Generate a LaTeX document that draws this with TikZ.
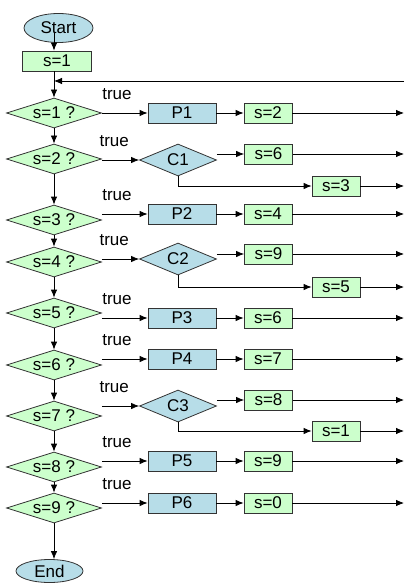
\documentclass[tikz,border=0pt]{standalone}
\usepackage{fontspec}
\setmainfont{Liberation Sans}
\usetikzlibrary{shapes.geometric, positioning, arrows.meta}
\definecolor{procblue}{RGB}{183,221,232}
\definecolor{stategreen}{RGB}{204,255,204}

\tikzset{
  terminal/.style={ellipse, draw=black!80, fill=procblue, inner sep=0pt, minimum width=69pt, minimum height=29pt},
  assign/.style={rectangle, draw=black!80, fill=stategreen, inner sep=0pt, minimum width=48pt, minimum height=20pt},
  process/.style={rectangle, draw=black!80, fill=procblue, inner sep=0pt, minimum width=68pt, minimum height=20pt},
  test/.style={diamond, aspect=3, draw=black!80, fill=stategreen, inner sep=0pt, minimum width=95pt, minimum height=30pt},
  choice/.style={diamond, aspect=2.4, draw=black!80, fill=procblue, inner sep=0pt, minimum width=77pt, minimum height=32pt},
  truelab/.style={pos=.33, above=13pt, inner sep=0pt}
}

\begin{document}
\begin{tikzpicture}[on grid, thick, -{Latex[length=8pt, width=6.5pt]}, font=\fontsize{17}{19}\selectfont]
        \useasboundingbox (-54pt,113pt) rectangle (351pt,-470pt);

        % main column of tests
        \node[test] (d1) {s=1 ?};
        \node[assign, minimum width=69pt] (init) [above right=52pt and 3pt of d1] {s=1};
        \node[terminal] (start) [above right=85pt and 4.5pt of d1] {Start};
        \coordinate[above=81pt of d1] (launch);
        \coordinate[above=32pt of d1] (fb);
        \coordinate[right=350pt of d1] (rim);
        \node[test] (d2) [below=46pt of d1] {s=2 ?};
        \node[test] (d3) [below=61pt of d2] {s=3 ?};
        \node[test] (d4) [below=42pt of d3] {s=4 ?};
        \node[test] (d5) [below=51pt of d4] {s=5 ?};
        \node[test] (d6) [below=52pt of d5] {s=6 ?};
        \node[test] (d7) [below=51pt of d6] {s=7 ?};
        \node[test] (d8) [below=51pt of d7] {s=8 ?};
        \node[test] (d9) [below=41pt of d8] {s=9 ?};
        \node[terminal, minimum width=67pt, minimum height=23pt] (end) [below left=63pt and 4.5pt of d9] {End};

        % branches
        \node[process] (p1) [right=128pt of d1] {P1};
        \node[assign] (a2) [right=86pt of p1] {s=2};
        \node[choice] (c1) [below right=1pt and 124pt of d2] {C1};
        \node[assign] (a6) [above right=6pt and 90.5pt of c1] {s=6};
        \node[assign] (a3) [below right=26pt and 158pt of c1] {s=3};
        \node[process] (p2) [above right=6pt and 128pt of d3] {P2};
        \node[assign] (a4) [right=86pt of p2] {s=4};
        \node[choice] (c2) [above right=3pt and 124pt of d4] {C2};
        \node[assign] (a9) [above right=5pt and 90.5pt of c2] {s=9};
        \node[assign] (a5) [below right=28pt and 158pt of c2] {s=5};
        \node[process] (p3) [below right=5pt and 128pt of d5] {P3};
        \node[assign] (a6b) [right=86pt of p3] {s=6};
        \node[process] (p4) [above right=6pt and 128pt of d6] {P4};
        \node[assign] (a7) [right=86pt of p4] {s=7};
        \node[choice] (c3) [above right=10pt and 124pt of d7] {C3};
        \node[assign] (a8) [above right=6pt and 90.5pt of c3] {s=8};
        \node[assign] (a1) [below right=25pt and 158pt of c3] {s=1};
        \node[process] (p5) [above right=6pt and 128pt of d8] {P5};
        \node[assign] (a9b) [right=86pt of p5] {s=9};
        \node[process] (p6) [above right=5pt and 128pt of d9] {P6};
        \node[assign] (a0) [right=86pt of p6] {s=0};

        % column
        \path (launch) edge (init.north -| d1);
        \path (init.south -| d1) edge (d1);
        \path (fb -| rim) edge (fb);
        \path (d1) edge (d2);
        \path (d2) edge (d3);
        \path (d3) edge (d4);
        \path (d4) edge (d5);
        \path (d5) edge (d6);
        \path (d6) edge (d7);
        \path (d7) edge (d8);
        \path (d8) edge (d9);
        \path (d9) edge (end.north -| d9);

        % true branches
        \path (d1.east |- p1) edge node[truelab] {true} (p1);
        \path (d2.east |- c1) edge node[truelab] {true} (c1);
        \path (d3.east |- p2) edge node[truelab] {true} (p2);
        \path (d4.east |- c2) edge node[truelab] {true} (c2);
        \path (d5.east |- p3) edge node[truelab] {true} (p3);
        \path (d6.east |- p4) edge node[truelab] {true} (p4);
        \path (d7.east |- c3) edge node[truelab] {true} (c3);
        \path (d8.east |- p5) edge node[truelab] {true} (p5);
        \path (d9.east |- p6) edge node[truelab] {true} (p6);

        \path (p1) edge (a2);
        \path (c1.east |- a6) edge (a6);
        \draw (c1.south) |- (a3);
        \path (p2) edge (a4);
        \path (c2.east |- a9) edge (a9);
        \draw (c2.south) |- (a5);
        \path (p3) edge (a6b);
        \path (p4) edge (a7);
        \path (c3.east |- a8) edge (a8);
        \draw (c3.south) |- (a1);
        \path (p5) edge (a9b);
        \path (p6) edge (a0);

        % back to the loop
        \path (a2) edge (a2 -| rim);
        \path (a6) edge (a6 -| rim);
        \path (a3) edge (a3 -| rim);
        \path (a4) edge (a4 -| rim);
        \path (a9) edge (a9 -| rim);
        \path (a5) edge (a5 -| rim);
        \path (a6b) edge (a6b -| rim);
        \path (a7) edge (a7 -| rim);
        \path (a8) edge (a8 -| rim);
        \path (a1) edge (a1 -| rim);
        \path (a9b) edge (a9b -| rim);
        \path (a0) edge (a0 -| rim);
    \end{tikzpicture}
\end{document}
